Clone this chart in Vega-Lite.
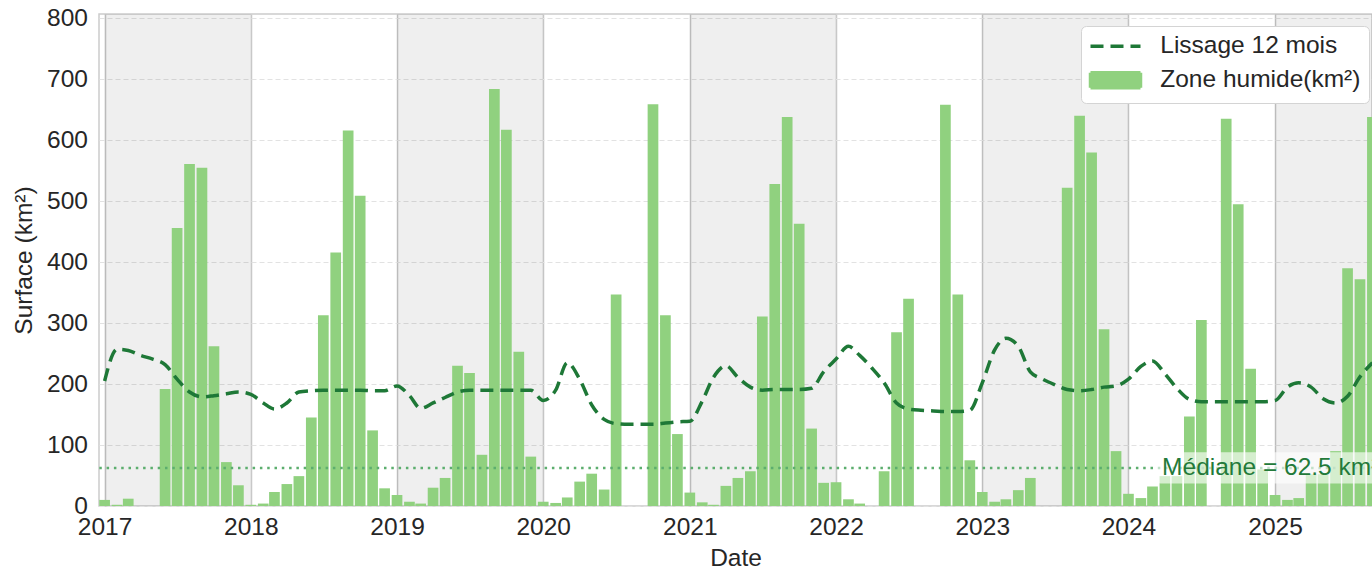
{
  "$schema": "https://vega.github.io/schema/vega-lite/v6.json",
  "width": 1273,
  "height": 492,
  "autosize": {"type": "none"},
  "padding": {"left": 99, "top": 14, "right": 0, "bottom": 65},
  "background": "white",
  "config": {
    "font": "Liberation Sans",
    "view": {"stroke": "#cccccc", "strokeWidth": 1.5},
    "axis": {
      "labelFont": "Liberation Sans",
      "titleFont": "Liberation Sans",
      "labelFontSize": 24.5,
      "titleFontSize": 24.5,
      "labelColor": "#262626",
      "titleColor": "#262626",
      "titleFontWeight": "normal",
      "domain": false,
      "ticks": false
    }
  },
  "layer": [
    {
      "data": {"values": [
        {"start": "2017-01-01", "end": "2018-01-01"},
        {"start": "2019-01-01", "end": "2020-01-01"},
        {"start": "2021-01-01", "end": "2022-01-01"},
        {"start": "2023-01-01", "end": "2024-01-01"},
        {"start": "2025-01-01", "end": "2026-01-01"}
      ]},
      "mark": {"type": "rect", "color": "#000000", "opacity": 0.063, "clip": true},
      "encoding": {
        "x": {
          "field": "start", "type": "temporal", "title": "Date",
          "scale": {"type": "utc", "padding": 0, "domain": [{"year": 2016, "month": 12, "date": 18, "utc": true}, {"year": 2025, "month": 8, "date": 31, "utc": true}]},
          "axis": {"format": "%Y", "tickCount": {"interval": "year", "step": 1}, "grid": true, "gridColor": "#c8c8c8", "gridWidth": 1.5, "labelPadding": 9, "titlePadding": 8, "labelFlush": false}
        },
        "x2": {"field": "end"},
        "y": {"datum": 0, "type": "quantitative"},
        "y2": {"datum": 807}
      }
    },
    {
      "data": {"values": [
        {"date": "2017-01-01", "value": 10}, {"date": "2017-02-01", "value": 2}, {"date": "2017-03-01", "value": 12}, {"date": "2017-04-01", "value": 0},
        {"date": "2017-05-01", "value": 0}, {"date": "2017-06-01", "value": 192}, {"date": "2017-07-01", "value": 456}, {"date": "2017-08-01", "value": 561},
        {"date": "2017-09-01", "value": 555}, {"date": "2017-10-01", "value": 262}, {"date": "2017-11-01", "value": 72}, {"date": "2017-12-01", "value": 34},
        {"date": "2018-01-01", "value": 2}, {"date": "2018-02-01", "value": 4}, {"date": "2018-03-01", "value": 23}, {"date": "2018-04-01", "value": 36},
        {"date": "2018-05-01", "value": 49}, {"date": "2018-06-01", "value": 145}, {"date": "2018-07-01", "value": 313}, {"date": "2018-08-01", "value": 416},
        {"date": "2018-09-01", "value": 616}, {"date": "2018-10-01", "value": 509}, {"date": "2018-11-01", "value": 124}, {"date": "2018-12-01", "value": 29},
        {"date": "2019-01-01", "value": 18}, {"date": "2019-02-01", "value": 7}, {"date": "2019-03-01", "value": 4}, {"date": "2019-04-01", "value": 30},
        {"date": "2019-05-01", "value": 46}, {"date": "2019-06-01", "value": 230}, {"date": "2019-07-01", "value": 218}, {"date": "2019-08-01", "value": 84},
        {"date": "2019-09-01", "value": 684}, {"date": "2019-10-01", "value": 617}, {"date": "2019-11-01", "value": 253}, {"date": "2019-12-01", "value": 81},
        {"date": "2020-01-01", "value": 7}, {"date": "2020-02-01", "value": 5}, {"date": "2020-03-01", "value": 14}, {"date": "2020-04-01", "value": 40},
        {"date": "2020-05-01", "value": 53}, {"date": "2020-06-01", "value": 27}, {"date": "2020-07-01", "value": 347}, {"date": "2020-08-01", "value": 0},
        {"date": "2020-09-01", "value": 0}, {"date": "2020-10-01", "value": 659}, {"date": "2020-11-01", "value": 313}, {"date": "2020-12-01", "value": 118},
        {"date": "2021-01-01", "value": 22}, {"date": "2021-02-01", "value": 6}, {"date": "2021-03-01", "value": 2}, {"date": "2021-04-01", "value": 33},
        {"date": "2021-05-01", "value": 46}, {"date": "2021-06-01", "value": 57}, {"date": "2021-07-01", "value": 311}, {"date": "2021-08-01", "value": 528},
        {"date": "2021-09-01", "value": 638}, {"date": "2021-10-01", "value": 463}, {"date": "2021-11-01", "value": 127}, {"date": "2021-12-01", "value": 38},
        {"date": "2022-01-01", "value": 39}, {"date": "2022-02-01", "value": 11}, {"date": "2022-03-01", "value": 4}, {"date": "2022-04-01", "value": 0},
        {"date": "2022-05-01", "value": 57}, {"date": "2022-06-01", "value": 285}, {"date": "2022-07-01", "value": 340}, {"date": "2022-08-01", "value": 0},
        {"date": "2022-09-01", "value": 0}, {"date": "2022-10-01", "value": 658}, {"date": "2022-11-01", "value": 347}, {"date": "2022-12-01", "value": 75},
        {"date": "2023-01-01", "value": 23}, {"date": "2023-02-01", "value": 7}, {"date": "2023-03-01", "value": 11}, {"date": "2023-04-01", "value": 26},
        {"date": "2023-05-01", "value": 46}, {"date": "2023-06-01", "value": 0}, {"date": "2023-07-01", "value": 0}, {"date": "2023-08-01", "value": 522},
        {"date": "2023-09-01", "value": 640}, {"date": "2023-10-01", "value": 580}, {"date": "2023-11-01", "value": 290}, {"date": "2023-12-01", "value": 90},
        {"date": "2024-01-01", "value": 20}, {"date": "2024-02-01", "value": 13}, {"date": "2024-03-01", "value": 32}, {"date": "2024-04-01", "value": 49},
        {"date": "2024-05-01", "value": 49}, {"date": "2024-06-01", "value": 147}, {"date": "2024-07-01", "value": 305}, {"date": "2024-08-01", "value": 0},
        {"date": "2024-09-01", "value": 635}, {"date": "2024-10-01", "value": 495}, {"date": "2024-11-01", "value": 225}, {"date": "2024-12-01", "value": 60},
        {"date": "2025-01-01", "value": 18}, {"date": "2025-02-01", "value": 10}, {"date": "2025-03-01", "value": 13}, {"date": "2025-04-01", "value": 52},
        {"date": "2025-05-01", "value": 52}, {"date": "2025-06-01", "value": 90}, {"date": "2025-07-01", "value": 390}, {"date": "2025-08-01", "value": 372},
        {"date": "2025-09-01", "value": 638}
      ]},
      "mark": {"type": "bar", "size": 10.7, "clip": true},
      "encoding": {
        "x": {"field": "date", "type": "temporal", "title": "Date"},
        "y": {
          "field": "value", "type": "quantitative", "title": "Surface (km²)",
          "scale": {"domain": [0, 807], "nice": false},
          "axis": {"values": [0, 100, 200, 300, 400, 500, 600, 700, 800], "grid": true, "gridColor": "#e2e2e2", "gridWidth": 1, "gridDash": [5, 3], "labelPadding": 11.5, "titlePadding": 10}
        },
        "color": {
          "datum": "Zone humide(km²)", "type": "nominal",
          "scale": {"domain": ["Lissage 12 mois", "Zone humide(km²)"], "range": ["#1e7837", "#90d17f"]},
          "legend": {
            "orient": "none", "legendX": 982, "legendY": 12, "title": null, "direction": "vertical",
            "labelFont": "Liberation Sans", "labelFontSize": 24.5, "labelColor": "#262626", "labelLimit": 400,
            "fillColor": "#ffffff", "strokeColor": "#d4d4d4", "cornerRadius": 5, "padding": 8,
            "symbolSize": 400, "symbolStrokeWidth": 3.5, "rowPadding": 7, "symbolOffset": 14.25, "labelOffset": 32.5,
            "encode": {"symbols": {"update": {
              "shape": {"signal": "datum.value === 'Lissage 12 mois' ? 'M-2.5,0H2.5' : 'M-2.5,-0.75H2.5V0.75H-2.5Z'"},
              "fill": {"signal": "datum.value === 'Lissage 12 mois' ? 'transparent' : '#90d17f'"},
              "stroke": {"signal": "datum.value === 'Lissage 12 mois' ? '#1e7837' : 'transparent'"},
              "strokeWidth": {"value": 3.5},
              "strokeDash": {"signal": "datum.value === 'Lissage 12 mois' ? [13, 7] : [1, 0]"},
              "opacity": {"value": 1}
            }}}
          }
        }
      }
    },
    {
      "data": {"values": [{"median": 62.5}]},
      "mark": {"type": "rule", "color": "#5cae6e", "strokeWidth": 2.5, "strokeDash": [2.5, 4.8]},
      "encoding": {"y": {"field": "median", "type": "quantitative", "title": "Surface (km²)"}}
    },
    {
      "data": {"values": [
        {"date": "2017-01-01", "value": 205}, {"date": "2017-02-01", "value": 257}, {"date": "2017-03-01", "value": 255}, {"date": "2017-04-01", "value": 247},
        {"date": "2017-05-01", "value": 241}, {"date": "2017-06-01", "value": 232}, {"date": "2017-07-01", "value": 208}, {"date": "2017-08-01", "value": 187},
        {"date": "2017-09-01", "value": 179}, {"date": "2017-10-01", "value": 181}, {"date": "2017-11-01", "value": 184}, {"date": "2017-12-01", "value": 187},
        {"date": "2018-01-01", "value": 183}, {"date": "2018-02-01", "value": 169}, {"date": "2018-03-01", "value": 159}, {"date": "2018-04-01", "value": 169},
        {"date": "2018-05-01", "value": 187}, {"date": "2018-06-01", "value": 189}, {"date": "2018-07-01", "value": 190}, {"date": "2018-08-01", "value": 190},
        {"date": "2018-09-01", "value": 190}, {"date": "2018-10-01", "value": 190}, {"date": "2018-11-01", "value": 189}, {"date": "2018-12-01", "value": 189},
        {"date": "2019-01-01", "value": 197}, {"date": "2019-02-01", "value": 181}, {"date": "2019-03-01", "value": 160}, {"date": "2019-04-01", "value": 169},
        {"date": "2019-05-01", "value": 178}, {"date": "2019-06-01", "value": 187}, {"date": "2019-07-01", "value": 190}, {"date": "2019-08-01", "value": 190},
        {"date": "2019-09-01", "value": 190}, {"date": "2019-10-01", "value": 190}, {"date": "2019-11-01", "value": 190}, {"date": "2019-12-01", "value": 190},
        {"date": "2020-01-01", "value": 173}, {"date": "2020-02-01", "value": 190}, {"date": "2020-03-01", "value": 235}, {"date": "2020-04-01", "value": 208},
        {"date": "2020-05-01", "value": 166}, {"date": "2020-06-01", "value": 142}, {"date": "2020-07-01", "value": 135}, {"date": "2020-08-01", "value": 134},
        {"date": "2020-09-01", "value": 134}, {"date": "2020-10-01", "value": 134}, {"date": "2020-11-01", "value": 136}, {"date": "2020-12-01", "value": 138},
        {"date": "2021-01-01", "value": 139}, {"date": "2021-02-01", "value": 172}, {"date": "2021-03-01", "value": 211}, {"date": "2021-04-01", "value": 230},
        {"date": "2021-05-01", "value": 211}, {"date": "2021-06-01", "value": 195}, {"date": "2021-07-01", "value": 190}, {"date": "2021-08-01", "value": 191},
        {"date": "2021-09-01", "value": 191}, {"date": "2021-10-01", "value": 191}, {"date": "2021-11-01", "value": 193}, {"date": "2021-12-01", "value": 220},
        {"date": "2022-01-01", "value": 241}, {"date": "2022-02-01", "value": 262}, {"date": "2022-03-01", "value": 247}, {"date": "2022-04-01", "value": 226},
        {"date": "2022-05-01", "value": 202}, {"date": "2022-06-01", "value": 169}, {"date": "2022-07-01", "value": 159}, {"date": "2022-08-01", "value": 157},
        {"date": "2022-09-01", "value": 156}, {"date": "2022-10-01", "value": 155}, {"date": "2022-11-01", "value": 155}, {"date": "2022-12-01", "value": 157},
        {"date": "2023-01-01", "value": 202}, {"date": "2023-02-01", "value": 256}, {"date": "2023-03-01", "value": 275}, {"date": "2023-04-01", "value": 262},
        {"date": "2023-05-01", "value": 220}, {"date": "2023-06-01", "value": 208}, {"date": "2023-07-01", "value": 199}, {"date": "2023-08-01", "value": 191},
        {"date": "2023-09-01", "value": 189}, {"date": "2023-10-01", "value": 191}, {"date": "2023-11-01", "value": 195}, {"date": "2023-12-01", "value": 197},
        {"date": "2024-01-01", "value": 208}, {"date": "2024-02-01", "value": 229}, {"date": "2024-03-01", "value": 238}, {"date": "2024-04-01", "value": 217},
        {"date": "2024-05-01", "value": 193}, {"date": "2024-06-01", "value": 175}, {"date": "2024-07-01", "value": 171}, {"date": "2024-08-01", "value": 171},
        {"date": "2024-09-01", "value": 171}, {"date": "2024-10-01", "value": 171}, {"date": "2024-11-01", "value": 171}, {"date": "2024-12-01", "value": 171},
        {"date": "2025-01-01", "value": 173}, {"date": "2025-02-01", "value": 195}, {"date": "2025-03-01", "value": 202}, {"date": "2025-04-01", "value": 195},
        {"date": "2025-05-01", "value": 176}, {"date": "2025-06-01", "value": 169}, {"date": "2025-07-01", "value": 180}, {"date": "2025-08-01", "value": 212},
        {"date": "2025-09-01", "value": 235}
      ]},
      "mark": {"type": "line", "interpolate": "monotone", "strokeWidth": 3.5, "strokeDash": [13, 7], "clip": true},
      "encoding": {
        "x": {"field": "date", "type": "temporal", "title": "Date"},
        "y": {"field": "value", "type": "quantitative", "title": "Surface (km²)"},
        "color": {"datum": "Lissage 12 mois", "type": "nominal"}
      }
    },
    {
      "data": {"values": [{"label": "Médiane = 62.5 km²", "boxStart": "2024-03-11", "boxEnd": "2025-12-31", "textStart": "2024-03-25", "low": 37, "high": 88, "median": 62.5}]},
      "layer": [
        {
          "mark": {"type": "rect", "color": "#ffffff", "opacity": 0.62, "cornerRadius": 4, "clip": true},
          "encoding": {
            "x": {"field": "boxStart", "type": "temporal", "title": "Date"},
            "x2": {"field": "boxEnd"},
            "y": {"field": "low", "type": "quantitative", "title": "Surface (km²)"},
            "y2": {"field": "high"}
          }
        },
        {
          "mark": {"type": "text", "align": "left", "baseline": "middle", "fontSize": 24.5, "font": "Liberation Sans", "color": "#237a3a"},
          "encoding": {
            "x": {"field": "textStart", "type": "temporal", "title": "Date"},
            "y": {"field": "median", "type": "quantitative", "title": "Surface (km²)"},
            "text": {"field": "label"}
          }
        }
      ]
    }
  ]
}
